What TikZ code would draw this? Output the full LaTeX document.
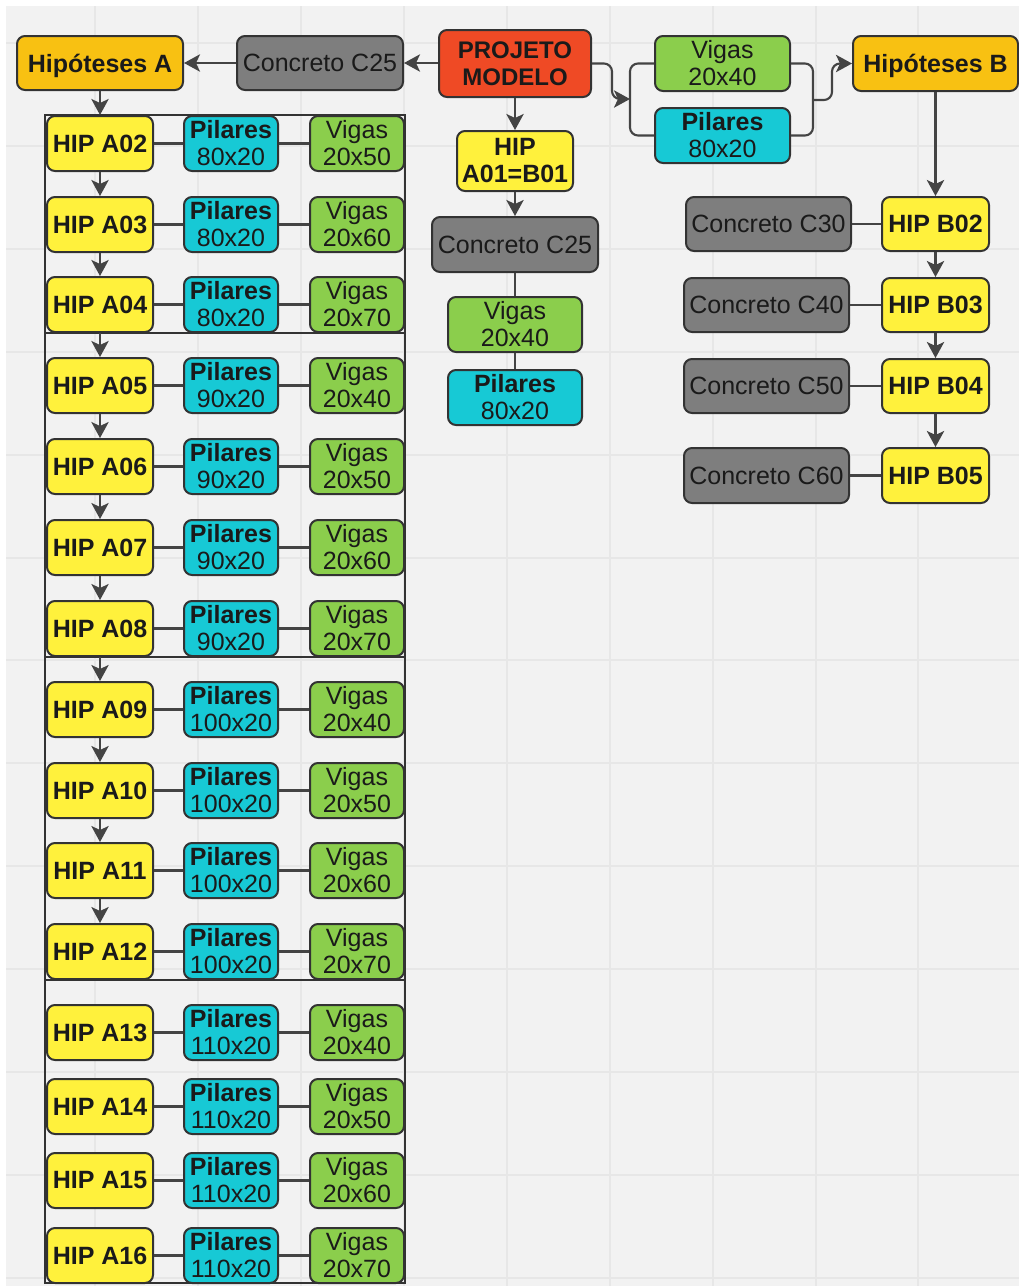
\documentclass[tikz,border=0pt]{standalone}
\usepackage{fontspec}
\setmainfont{Liberation Sans}
\usetikzlibrary{arrows.meta}
\definecolor{bgc}{HTML}{F2F2F2}
\definecolor{gridc}{HTML}{E7E7E7}
\definecolor{bordc}{HTML}{333333}
\definecolor{linec}{HTML}{444444}
\definecolor{txtc}{HTML}{1A1A1A}
\definecolor{orgc}{HTML}{F8C112}
\definecolor{yelc}{HTML}{FFF13C}
\definecolor{cyac}{HTML}{17C9D5}
\definecolor{grnc}{HTML}{8BCE4C}
\definecolor{gryc}{HTML}{7E7E7E}
\definecolor{redc}{HTML}{EF4A25}
\newcommand\bx[7]{\node[#2, minimum width={(#5-#3)*0.75pt}, minimum height={(#6-#4)*0.75pt}] (#1) at ({(#3+#5)/2},{(#4+#6)/2}) {#7};}
\begin{document}
\begin{tikzpicture}[x=0.75pt,y=-0.75pt,
  base/.style={draw=bordc, line width=1.5pt, rounded corners=6pt, inner sep=0pt, align=center, text=txtc, font=\fontsize{18.75}{20.25}\selectfont},
  hyp/.style={base, fill=orgc, font=\fontsize{18.75}{20.25}\selectfont\bfseries, text depth=0pt},
  hipbox/.style={base, fill=yelc, font=\fontsize{18.75}{20.25}\selectfont\bfseries},
  pilbox/.style={base, fill=cyac},
  vigbox/.style={base, fill=grnc},
  conbox/.style={base, fill=gryc},
  projbox/.style={base, fill=redc, font=\fontsize{18}{20.25}\selectfont\bfseries},
  link/.style={draw=linec, line width=1.6pt},
  arr/.style={link, -{Stealth[length=12pt,width=13pt,inset=3pt]}},
  grp/.style={draw=bordc, line width=1.3pt},
  gline/.style={draw=gridc, line width=1.2pt}]
\useasboundingbox (0,0) rectangle (1019,1286);
\fill[white] (0,0) rectangle (1019,1286);
\fill[bgc] (6,6) rectangle (1019,1286);
\foreach \x in {95,198,301,404,507,610,713,816,918} \draw[gline] (\x,6) -- (\x,1286);
\foreach \y in {43,146,249,352,455,558,660,763,866,969,1072,1175,1278} \draw[gline] (6,\y) -- (1019,\y);
% group frames
\draw[grp] (45,115) rectangle (405,333);
\draw[grp] (45,333) rectangle (405,657);
\draw[grp] (45,657) rectangle (405,980);
\draw[grp] (45,980) rectangle (405,1283);
% top row
\bx{hA}{hyp}{17}{36}{183}{90}{Hipóteses A}
\bx{cTop}{conbox}{237}{36}{403}{90}{Concreto C25}
\bx{pm}{projbox}{439}{30}{591}{97}{PROJETO\\MODELO}
\bx{vTop}{vigbox}{655}{36}{790}{91}{Vigas\\20x40}
\bx{pTop}{pilbox}{655}{108}{790}{163}{{\bfseries Pilares}\\80x20}
\bx{hB}{hyp}{853}{36}{1018}{91}{Hipóteses B}
% middle column
\bx{a01}{hipbox}{457}{131}{573}{191}{HIP\\A01=B01}
\bx{cMid}{conbox}{432}{217}{598}{272}{Concreto C25}
\bx{vMid}{vigbox}{448}{297}{582}{352}{Vigas\\20x40}
\bx{pMid}{pilbox}{448}{370}{582}{425}{{\bfseries Pilares}\\80x20}
% right column
\bx{b02}{hipbox}{882}{197}{989}{251}{HIP B02}
\bx{b03}{hipbox}{882}{278}{989}{332}{HIP B03}
\bx{b04}{hipbox}{882}{359}{989}{413}{HIP B04}
\bx{b05}{hipbox}{882}{448}{989}{503}{HIP B05}
\bx{c30}{conbox}{686}{197}{851}{251}{Concreto C30}
\bx{c40}{conbox}{684}{278}{849}{332}{Concreto C40}
\bx{c50}{conbox}{684}{359}{849}{413}{Concreto C50}
\bx{c60}{conbox}{684}{448}{849}{503}{Concreto C60}
% left column rows
\foreach \n/\t/\p/\v in {02/116/80/50,03/197/80/60,04/277/80/70,05/358/90/40,06/439/90/50,07/520/90/60,08/601/90/70,09/682/100/40,10/763/100/50,11/843/100/60,12/924/100/70,13/1005/110/40,14/1079/110/50,15/1153/110/60,16/1228/110/70}{
  \pgfmathtruncatemacro\b{\t+55}
  \bx{a\n}{hipbox}{47}{\t}{153}{\b}{HIP A\n}
  \bx{p\n}{pilbox}{184}{\t}{278}{\b}{{\bfseries Pilares}\\\p x20}
  \bx{v\n}{vigbox}{310}{\t}{404}{\b}{Vigas\\20x\v}
  \draw[link] (a\n) -- (p\n) -- (v\n);
}
\draw[arr] (hA) -- (a02);
\foreach \i/\j in {02/03,03/04,04/05,05/06,06/07,07/08,08/09,09/10,10/11,11/12} \draw[arr] (a\i) -- (a\j);
% top connectors
\draw[arr] (pm.west |- cTop.east) -- (cTop.east);
\draw[arr] (cTop) -- (hA);
\draw[arr] (pm) -- (a01);
\draw[arr] (a01) -- (cMid);
\draw[link] (cMid) -- (vMid) -- (pMid);
\coordinate (jL) at (630,99);
\coordinate (jR) at (813,100);
\draw[arr, rounded corners=6pt] (pm.east |- vTop.west) -- (612,63.5) -- (612,99) -- (jL);
\draw[link, rounded corners=6pt] (vTop.west) -- (630,63.5) -- (630,135.5) -- (pTop.west);
\draw[link, rounded corners=6pt] (vTop.east) -- (813,63.5) -- (813,135.5) -- (pTop.east);
\draw[arr, rounded corners=6pt] (jR) -- (832,100) -- (832,63.5) -- (hB.west);
% right column connectors
\draw[arr] (hB) -- (b02);
\draw[arr] (b02) -- (b03);
\draw[arr] (b03) -- (b04);
\draw[arr] (b04) -- (b05);
\draw[link] (c30) -- (b02);
\draw[link] (c40) -- (b03);
\draw[link] (c50) -- (b04);
\draw[link] (c60) -- (b05);
\end{tikzpicture}
\end{document}
